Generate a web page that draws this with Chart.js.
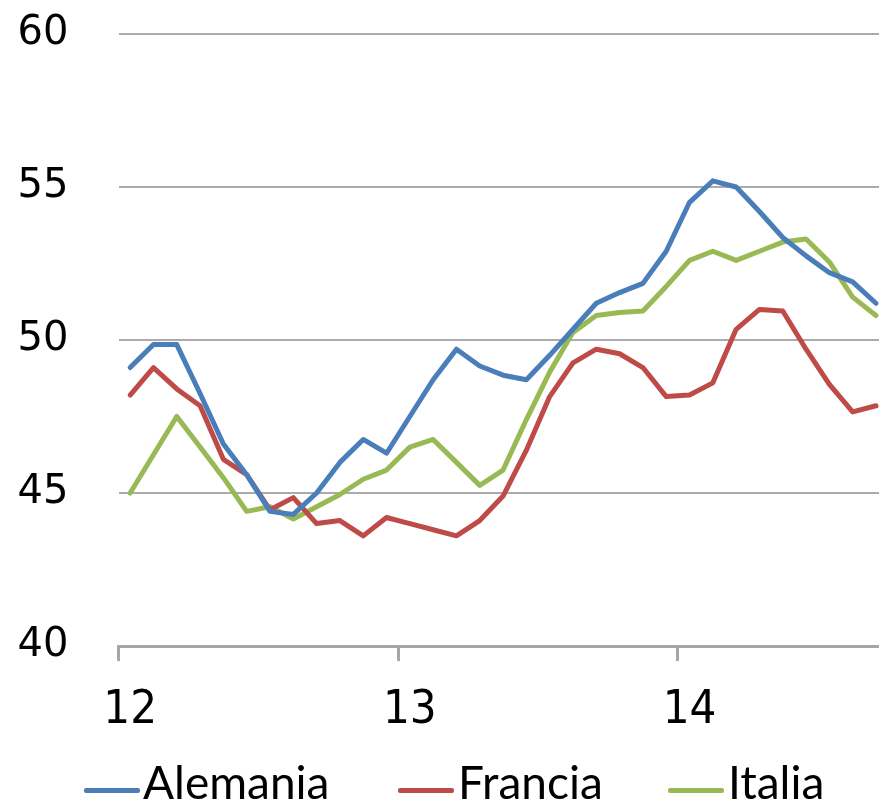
<!DOCTYPE html>
<html>
<head>
<meta charset="utf-8">
<script src="https://cdn.jsdelivr.net/npm/chart.js@4/dist/chart.umd.min.js"></script>
<style>
  html, body { margin: 0; padding: 0; background: #fff; overflow: hidden; }
  #wrap { position: relative; width: 879px; height: 805px; overflow: hidden; }
  canvas { position: absolute; left: 0; top: 0; }
  .key { position: absolute; height: 5px; border-radius: 2px; }
  .lbl { position: absolute; font-family: Lato, "Noto Sans", sans-serif; font-size: 46px; line-height: 46px; color: #000; white-space: nowrap; }
</style>
</head>
<body>
<div id="wrap">
  <canvas id="c" width="898" height="805"></canvas>
  <div class="key" style="left:84px;top:788px;width:56px;background:#4A7EBB"></div>
  <div class="lbl" style="left:143px;top:759px">Alemania</div>
  <div class="key" style="left:398px;top:788px;width:56px;background:#BE4B48"></div>
  <div class="lbl" style="left:458px;top:759px">Francia</div>
  <div class="key" style="left:668px;top:788px;width:56px;background:#98B954"></div>
  <div class="lbl" style="left:728px;top:759px">Italia</div>
</div>
<script>
// Monthly PMI readings, January 2012 to September 2014
const months = [
  '2012-01','2012-02','2012-03','2012-04','2012-05','2012-06','2012-07','2012-08','2012-09','2012-10','2012-11','2012-12',
  '2013-01','2013-02','2013-03','2013-04','2013-05','2013-06','2013-07','2013-08','2013-09','2013-10','2013-11','2013-12',
  '2014-01','2014-02','2014-03','2014-04','2014-05','2014-06','2014-07','2014-08','2014-09'
];
const yearLabels = ['12', '13', '14'];

const alemania = [49.1, 49.85, 49.85, 48.25, 46.6, 45.6, 44.4, 44.3, 45.0, 46.0, 46.75, 46.3,
                  47.5, 48.7, 49.7, 49.15, 48.85, 48.7, 49.5, 50.35, 51.2, 51.55, 51.85, 52.9,
                  54.5, 55.2, 55.0, 54.2, 53.35, 52.75, 52.2, 51.9, 51.2];
const francia  = [48.2, 49.1, 48.4, 47.85, 46.1, 45.6, 44.45, 44.85, 44.0, 44.1, 43.6, 44.2,
                  44.0, 43.8, 43.6, 44.1, 44.9, 46.4, 48.15, 49.25, 49.7, 49.55, 49.1, 48.15,
                  48.2, 48.6, 50.35, 51.0, 50.95, 49.7, 48.55, 47.65, 47.85];
const italia   = [45.0, 46.25, 47.5, 46.5, 45.5, 44.4, 44.55, 44.15, 44.55, 44.95, 45.45, 45.75,
                  46.5, 46.75, 46.0, 45.25, 45.75, 47.4, 48.95, 50.25, 50.8, 50.9, 50.95, 51.75,
                  52.6, 52.9, 52.6, 52.9, 53.2, 53.3, 52.55, 51.4, 50.8];

const axisGray = '#A6A6A6';

const line = (label, data, color) => ({
  label, data,
  borderColor: color, backgroundColor: color,
  borderWidth: 5, pointRadius: 0, tension: 0, fill: false,
  borderCapStyle: 'round', borderJoinStyle: 'round'
});

new Chart(document.getElementById('c'), {
  type: 'line',
  data: {
    labels: months,
    datasets: [
      line('Alemania', alemania, '#4A7EBB'),
      line('Francia', francia, '#BE4B48'),
      line('Italia', italia, '#98B954')
    ]
  },
  options: {
    responsive: false,
    animation: false,
    devicePixelRatio: 1,
    layout: { padding: { left: 0, right: 1, top: 34, bottom: 0 } },
    plugins: { legend: { display: false }, tooltip: { enabled: false } },
    scales: {
      x: {
        type: 'category',
        offset: true,
        afterFit: s => { s.height = 805 - 34 - 612; },
        grid: {
          offset: true,
          drawOnChartArea: false,
          drawTicks: true,
          tickLength: 15,
          lineWidth: 3,
          color: ctx => (ctx.index % 12 === 0 ? axisGray : 'rgba(0,0,0,0)')
        },
        border: { display: true, color: axisGray, width: 3 },
        ticks: {
          autoSkip: false,
          maxRotation: 0,
          minRotation: 0,
          padding: 22,
          color: '#000',
          font: { family: '"Liberation Sans Narrow", "DejaVu Sans Condensed", "Liberation Sans", sans-serif', size: 47 },
          callback: (v, i) => (i % 12 === 0 ? yearLabels[i / 12] : '')
        }
      },
      y: {
        min: 40, max: 60,
        afterFit: s => { s.width = 118.5; },
        grid: { color: '#ABABAB', lineWidth: 2, drawTicks: true, tickLength: 46, tickColor: 'rgba(0,0,0,0)' },
        border: { display: false },
        ticks: {
          stepSize: 5,
          padding: 4,
          color: '#000',
          font: { family: '"DejaVu Sans", Verdana, sans-serif', size: 40 }
        }
      }
    }
  }
});
</script>
</body>
</html>
